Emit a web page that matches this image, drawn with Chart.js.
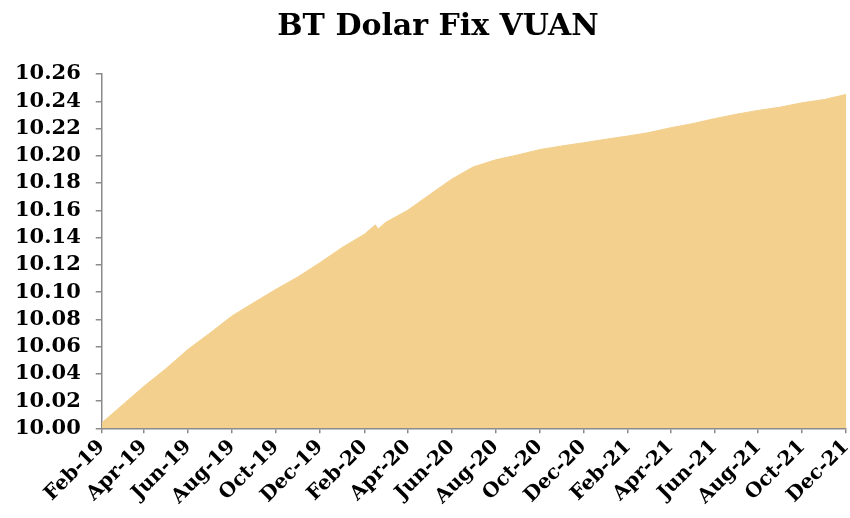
<!DOCTYPE html>
<html>
<head>
<meta charset="utf-8">
<script src="https://cdn.jsdelivr.net/npm/chart.js@4/dist/chart.umd.min.js"></script>
<style>
  html, body { margin: 0; padding: 0; background: #ffffff; }
  #wrap { width: 850px; height: 518px; }
</style>
</head>
<body>
<div id="wrap"><canvas id="c" width="850" height="518"></canvas></div>
<script>
// ---- data ----
const title = 'BT Dolar Fix VUAN';
const dates = [
  '2019-02-01','2019-03-01','2019-04-01','2019-05-01','2019-06-01','2019-07-01',
  '2019-08-01','2019-09-01','2019-10-01','2019-11-01','2019-12-01','2020-01-01',
  '2020-02-01','2020-02-16','2020-02-20','2020-03-01','2020-04-01','2020-05-01',
  '2020-06-01','2020-07-01','2020-08-01','2020-09-01','2020-10-01','2020-11-01',
  '2020-12-01','2021-01-01','2021-02-01','2021-03-01','2021-04-01','2021-05-01',
  '2021-06-01','2021-07-01','2021-08-01','2021-09-01','2021-10-01','2021-11-01',
  '2021-12-01'
];
const values = [
  10.004, 10.0168, 10.0310, 10.0437, 10.0580, 10.0698,
  10.0825, 10.0925, 10.1020, 10.1113, 10.1215, 10.1327,
  10.1425, 10.1493, 10.1462, 10.1510, 10.1600, 10.1713,
  10.1828, 10.1918, 10.1970, 10.2006, 10.2045, 10.2072,
  10.2095, 10.2121, 10.2145, 10.2169, 10.2205, 10.2235,
  10.2272, 10.2304, 10.2333, 10.2357, 10.2389, 10.2413,
  10.2450
];
const tickDates = [
  '2019-02-01','2019-04-01','2019-06-01','2019-08-01','2019-10-01','2019-12-01',
  '2020-02-01','2020-04-01','2020-06-01','2020-08-01','2020-10-01','2020-12-01',
  '2021-02-01','2021-04-01','2021-06-01','2021-08-01','2021-10-01','2021-12-01'
];
const tickLabels = [
  'Feb-19','Apr-19','Jun-19','Aug-19','Oct-19','Dec-19',
  'Feb-20','Apr-20','Jun-20','Aug-20','Oct-20','Dec-20',
  'Feb-21','Apr-21','Jun-21','Aug-21','Oct-21','Dec-21'
];
const yMin = 10.00, yMax = 10.26, yStep = 0.02;

// ---- helpers ----
const DAY = 86400000;
const t0 = Date.parse(tickDates[0] + 'T00:00:00Z');
const dayOf = s => Math.round((Date.parse(s + 'T00:00:00Z') - t0) / DAY);
const points = dates.map((d, i) => ({ x: dayOf(d), y: values[i] }));
const tickDays = tickDates.map(dayOf);

const FONT = "'DejaVu Serif', 'Liberation Serif', serif";
const AXIS = '#8a8a8a';
const FILL = 'rgb(243,208,142)';

const titleShift = {
  id: 'titleShift',
  afterLayout(chart) {
    const t = chart.titleBlock;
    if (t) { t.left += 15; t.right += 15; }
  }
};

new Chart(document.getElementById('c'), {
  type: 'line',
  data: {
    datasets: [{
      data: points,
      fill: 'start',
      backgroundColor: FILL,
      borderColor: FILL,
      borderWidth: 1,
      pointRadius: 0,
      tension: 0
    }]
  },
  options: {
    responsive: false,
    animation: false,
    devicePixelRatio: 1,
    layout: { padding: { left: 0, right: 4, top: 0, bottom: 7 } },
    plugins: {
      legend: { display: false },
      tooltip: { enabled: false },
      title: {
        display: true,
        text: title,
        color: '#000',
        font: { family: FONT, size: 30, weight: 'bold' },
        padding: { top: 9, bottom: 29 }
      }
    },
    scales: {
      x: {
        type: 'linear',
        min: tickDays[0],
        max: tickDays[tickDays.length - 1],
        afterBuildTicks: axis => { axis.ticks = tickDays.map(v => ({ value: v })); },
        afterFit: axis => { axis.paddingRight = 0; },
        ticks: {
          autoSkip: false,
          maxRotation: 45,
          minRotation: 45,
          padding: 2,
          color: '#000',
          font: { family: FONT, size: 20, weight: 'bold' },
          callback: (v) => { const i = tickDays.indexOf(v); return i >= 0 ? tickLabels[i] : ''; }
        },
        grid: { display: true, drawOnChartArea: false, drawTicks: true, tickLength: 5, color: AXIS, lineWidth: 1.5 },
        border: { display: true, color: AXIS, width: 1.5 }
      },
      y: {
        min: yMin,
        max: yMax,
        ticks: {
          stepSize: yStep,
          autoSkip: false,
          padding: 15,
          color: '#000',
          font: { family: FONT, size: 21, weight: 'bold' },
          callback: v => v.toFixed(2)
        },
        grid: { display: true, drawOnChartArea: false, drawTicks: true, tickLength: 6, color: AXIS, lineWidth: 1.5 },
        border: { display: true, color: AXIS, width: 1.5 }
      }
    }
  },
  plugins: [titleShift]
});
</script>
</body>
</html>
